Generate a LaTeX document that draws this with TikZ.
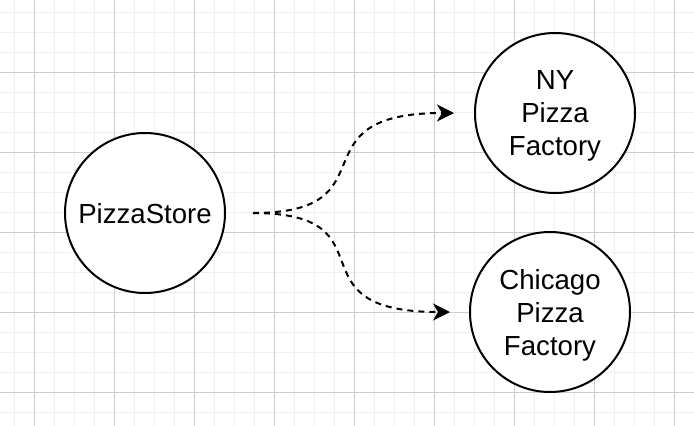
\documentclass[tikz,border=0pt]{standalone}
\usepackage{fontspec}
\setmainfont{Liberation Sans}
\usepackage{tikz}
\usetikzlibrary{arrows.meta, positioning, calc}

\begin{document}
\begin{tikzpicture}[x=1pt, y=-1pt,
  minorgrid/.style={draw=black!6, line width=1pt},
  majorgrid/.style={draw=black!20, line width=1pt},
  factory/.style={draw, circle, line width=2pt, minimum size=160pt, inner sep=0pt, align=center,
    text depth=0pt, font=\fontsize{27.6}{33}\selectfont},
  makes/.style={line width=2pt, dash pattern=on 6pt off 5pt,
    -{Stealth[length=17pt, width=17pt, inset=5pt]}}]
\useasboundingbox (0,0) rectangle (694,426);
\fill[white] (0,0) rectangle (694,426);
\foreach \gx in {14,34,...,694} \draw[minorgrid] (\gx,0) -- (\gx,426);
\foreach \gy in {12,32,...,426} \draw[minorgrid] (0,\gy) -- (694,\gy);
\foreach \gx in {34,114,...,694} \draw[majorgrid] (\gx,0) -- (\gx,426);
\foreach \gy in {72,152,...,426} \draw[majorgrid] (0,\gy) -- (694,\gy);

\node (store) at (145, 213) [factory, fill=white] {PizzaStore};
\node (nyfactory) at (555, 113) [factory, fill=white] {NY\\Pizza\\Factory};
\node (chifactory) at (550, 312) [factory, fill=white] {Chicago\\Pizza\\Factory};

\draw[makes] ([xshift=27pt]store.east) .. controls +(143,0) and +(-164,0) .. ([xshift=-20pt]nyfactory.west);
\draw[makes] ([xshift=27pt]store.east) .. controls +(143,0) and +(-164,0) .. ([xshift=-19pt]chifactory.west);
\end{tikzpicture}
\end{document}
